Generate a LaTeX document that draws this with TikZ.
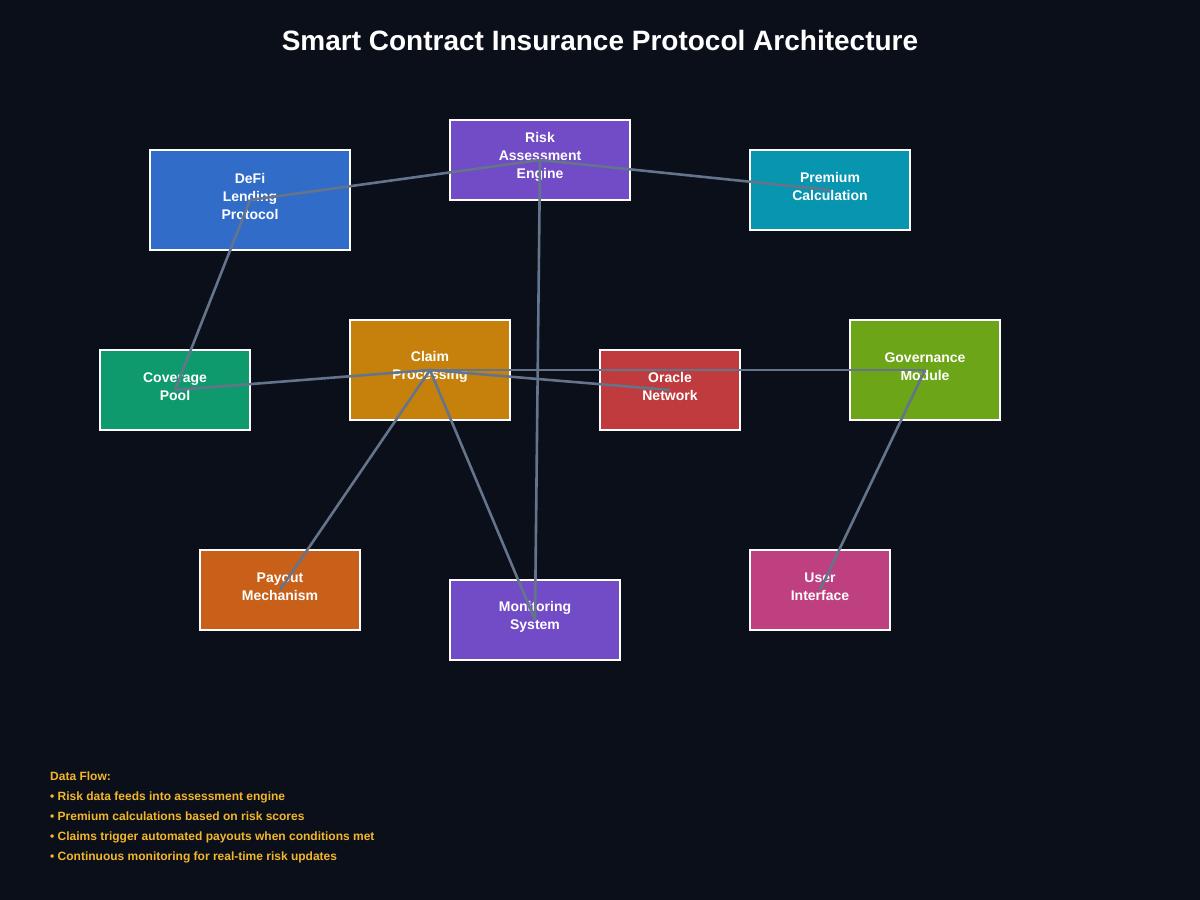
\documentclass[tikz,border=0pt]{standalone}
\usepackage{fontspec}
\setmainfont{Liberation Sans}
\definecolor{bg}{HTML}{0B0F1A}
\definecolor{edgec}{HTML}{64748B}
\definecolor{cDefi}{HTML}{306CC8}
\definecolor{cRisk}{HTML}{714CC6}
\definecolor{cPrem}{HTML}{0895B0}
\definecolor{cCov}{HTML}{0F9A6E}
\definecolor{cClaim}{HTML}{C5810C}
\definecolor{cOracle}{HTML}{C03B3D}
\definecolor{cGov}{HTML}{6CA518}
\definecolor{cPay}{HTML}{C8601A}
\definecolor{cUser}{HTML}{BE4080}
\definecolor{footc}{HTML}{F2B72A}
\begin{document}
\begin{tikzpicture}[x=1pt,y=-1pt,
  box/.style={draw=white,line width=2pt,rectangle,inner sep=0pt},
  lbl/.style={text=white,font=\fontsize{14}{18}\selectfont\bfseries,align=center,inner sep=0pt},
  conn/.style={draw=edgec,line width=2.6pt},
  foot/.style={text=footc,font=\fontsize{12}{14}\selectfont\bfseries,anchor=base west,inner sep=0pt}]
\fill[bg] (0,0) rectangle (1200,900);
\useasboundingbox (0,0) rectangle (1200,900);
\node[text=white,font=\fontsize{28}{34}\selectfont\bfseries,inner sep=0pt,anchor=base] (title) at (600,50) {Smart Contract Insurance Protocol Architecture};
% boxes
\node[box,fill=cDefi,minimum width=200pt,minimum height=100pt] (defi) at (250,200) {};
\node[box,fill=cRisk,minimum width=180pt,minimum height=80pt] (risk) at (540,160) {};
\node[box,fill=cPrem,minimum width=160pt,minimum height=80pt] (prem) at (830,190) {};
\node[box,fill=cCov,minimum width=150pt,minimum height=80pt] (cov) at (175,390) {};
\node[box,fill=cClaim,minimum width=160pt,minimum height=100pt] (claim) at (430,370) {};
\node[box,fill=cOracle,minimum width=140pt,minimum height=80pt] (oracle) at (670,390) {};
\node[box,fill=cGov,minimum width=150pt,minimum height=100pt] (gov) at (925,370) {};
\node[box,fill=cPay,minimum width=160pt,minimum height=80pt] (pay) at (280,590) {};
\node[box,fill=cRisk,minimum width=170pt,minimum height=80pt] (mon) at (535,620) {};
\node[box,fill=cUser,minimum width=140pt,minimum height=80pt] (user) at (820,590) {};
% labels
\node[lbl] (tdefi) at (250,196.5) {DeFi\\Lending\\Protocol};
\node[lbl] (trisk) at (540,156.5) {Risk\\Assessment\\Engine};
\node[lbl] (tprem) at (830,186.5) {Premium\\Calculation};
\node[lbl] (tcov) at (175,386.5) {Coverage\\Pool};
\node[lbl] (tclaim) at (430,366.5) {Claim\\Processing};
\node[lbl] (toracle) at (670,386.5) {Oracle\\Network};
\node[lbl] (tgov) at (925,366.5) {Governance\\Module};
\node[lbl] (tpay) at (280,586.5) {Payout\\Mechanism};
\node[lbl] (tmon) at (535,616.5) {Monitoring\\System};
\node[lbl] (tuser) at (820,586.5) {User\\Interface};
% connectors
\draw[conn] (defi.center) -- (risk.center);
\draw[conn] (risk.center) -- (prem.center);
\draw[conn] (defi.center) -- (cov.center);
\draw[conn] (cov.center) -- (claim.center);
\draw[conn] (claim.center) -- (oracle.center);
\draw[conn] (claim.center) -- (gov.center);
\draw[conn] (claim.center) -- (pay.center);
\draw[conn] (claim.center) -- (mon.center);
\draw[conn] (risk.center) -- (mon.center);
\draw[conn] (gov.center) -- (user.center);
% footer
\node[foot] (f0) at (50,780) {Data Flow:};
\node[foot] (f1) at (50,800) {• Risk data feeds into assessment engine};
\node[foot] (f2) at (50,820) {• Premium calculations based on risk scores};
\node[foot] (f3) at (50,840) {• Claims trigger automated payouts when conditions met};
\node[foot] (f4) at (50,860) {• Continuous monitoring for real-time risk updates};
\end{tikzpicture}
\end{document}
